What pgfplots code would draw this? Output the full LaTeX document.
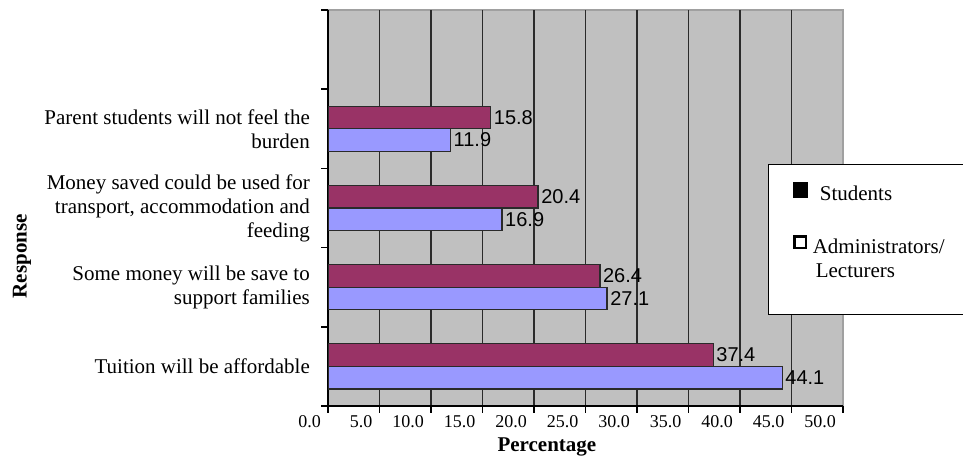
\documentclass[border=0pt]{standalone}
\usepackage{fontspec}
\setmainfont{Liberation Serif}
\newfontfamily\arial{Liberation Sans}
\usepackage{pgfplots}
\pgfplotsset{compat=1.18}
\definecolor{plum}{HTML}{993366}
\definecolor{peri}{HTML}{9999FF}
\definecolor{wall}{HTML}{C0C0C0}
\definecolor{wallborder}{HTML}{A0A0A0}
\definecolor{gridc}{HTML}{2A2A2A}
\begin{document}
\begin{tikzpicture}[x=1bp,y=1bp]
\useasboundingbox (0,0) rectangle (963,460);
\begin{axis}[
  at={(328bp,54bp)}, anchor=south west,
  scale only axis, width=515bp, height=396bp,
  xbar, bar width=0.285,
  xmin=0, xmax=50, ymin=-0.5, ymax=4.5,
  axis x line*=bottom, axis y line*=left,
  x axis line style={-, line width=1.6bp, black},
  y axis line style={-, line width=1.6bp, black},
  axis background/.style={fill=wall, draw=wallborder, line width=1.5bp},
  /pgf/number format/assume math mode=true,
  xtick={5,10,...,45}, extra x ticks={0,50}, extra x tick style={grid=none},
  xmajorgrids, grid style={line width=1.6bp, gridc},
  tick align=outside, major tick length=7bp,
  tick style={line width=1.6bp, black},
  xticklabel={\pgfmathprintnumber[fixed,fixed zerofill,precision=1]{\tick}},
  xticklabel style={anchor=north east, inner sep=0pt, xshift=-7bp, yshift=-2bp,
    font=\fontsize{18bp}{18bp}\selectfont},
  ytick={-0.5,0.5,...,4.5}, yticklabels={},
  extra y ticks={0,1,2,3},
  extra y tick labels={Tuition will be affordable,
    {Some money will be save to\\support families},
    {Money saved could be used for\\transport, accommodation and\\feeding},
    {Parent students will not feel the\\burden}},
  extra y tick style={major tick length=0pt, yticklabel style={anchor=east, align=right, inner sep=0pt, xshift=-18bp,
    font=\fontsize{21bp}{24bp}\selectfont}},
  every axis x label/.style={at={(rel axis cs:0.425,-0.1045)}, anchor=center,
    font=\bfseries\fontsize{21bp}{24bp}\selectfont},
  every axis y label/.style={at={(rel axis cs:-0.594,0.378)}, anchor=center, rotate=90,
    font=\bfseries\fontsize{21bp}{24bp}\selectfont},
  xlabel={Percentage}, ylabel={Response},
  nodes near coords={\pgfmathprintnumber[fixed,fixed zerofill,precision=1]{\pgfplotspointmeta}},
  every node near coord/.append style={black, anchor=west, inner sep=2.5bp,
    font=\arial\fontsize{20bp}{20bp}\selectfont},
  legend style={at={(rel axis cs:0.8544,0.6111)}, anchor=north west,
    draw=black, line width=1bp, fill=white, inner xsep=24bp, inner ysep=18bp,
    font=\fontsize{21bp}{24bp}\selectfont, row sep=33bp,
    nodes={inner sep=0pt}},
  legend cell align=left,
]
\addplot[fill=plum, draw=gridc, line width=1.3bp, bar shift=0.1425,
  legend image code/.code={\fill[black] (0bp,-3bp) rectangle (14bp,11bp);}]
  coordinates {(37.4,0) (26.4,1) (20.4,2) (15.8,3)};
\addlegendentry{\hspace{12bp}Students}
\addplot[fill=peri, draw=gridc, line width=1.3bp, bar shift=-0.1425,
  legend image code/.code={\draw[black, line width=2.4bp, fill=white] (1.2bp,-1.8bp) rectangle (12.8bp,9.8bp); \path (0bp,-50bp);}]
  coordinates {(44.1,0) (27.1,1) (16.9,2) (11.9,3)};
\addlegendentry{\begin{tabular}[t]{@{}l@{}}\hspace{5bp}Administrators/\\\hspace{8bp}Lecturers\end{tabular}}
\end{axis}
\end{tikzpicture}
\end{document}
